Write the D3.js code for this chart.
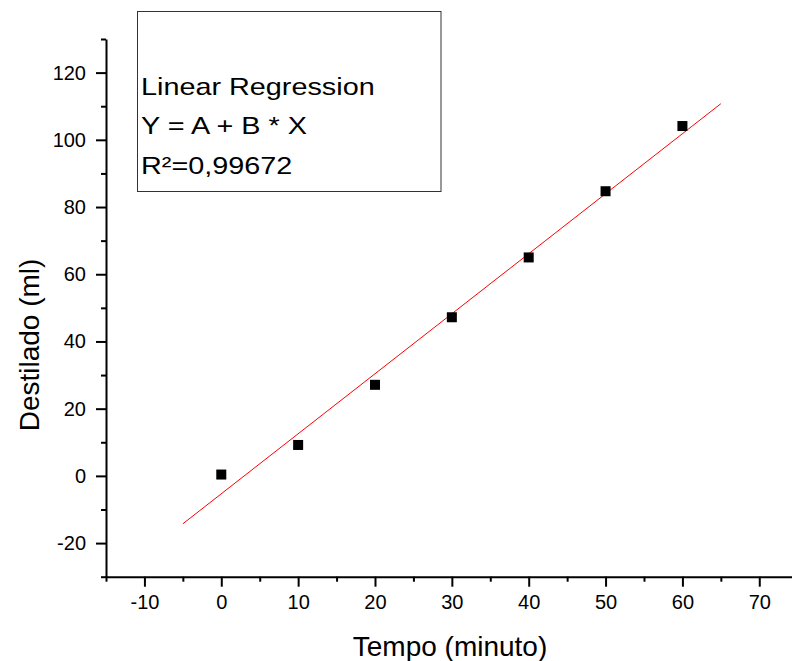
<!DOCTYPE html>
<html>
<head>
<meta charset="utf-8">
<script src="https://cdn.jsdelivr.net/npm/d3@7"></script>
<style>
  body { margin: 0; background: #fff; }
  svg { display: block; font-family: Arial, "Liberation Sans", sans-serif; }
</style>
</head>
<body>
<svg id="chart"></svg>
<script>
  // tempo (minuto) vs destilado (ml)
  const tempo = [0, 10, 20, 30, 40, 50, 60];
  const destilado = [0.4, 9.2, 27.1, 47.2, 65, 84.7, 104.1];
  const fitRange = [-5, 65];
  const xTicks = [-10, 0, 10, 20, 30, 40, 50, 60, 70];
  const yTicks = [-20, 0, 20, 40, 60, 80, 100, 120];
  const boxLines = ["Linear Regression", "Y = A + B * X", "R\u00b2=0,99672"];

  const width = 792, height = 661;
  const svg = d3.select("#chart").attr("width", width).attr("height", height);

  const x = d3.scaleLinear().domain([-15, 75]).range([106, 797.7]);
  const y = d3.scaleLinear().domain([-30, 130]).range([576.7, 39]);

  // least squares fit
  const mx = d3.mean(tempo), my = d3.mean(destilado);
  const b = d3.sum(tempo, (t, i) => (t - mx) * (destilado[i] - my)) /
    d3.sum(tempo, (t) => (t - mx) ** 2);
  const a = my - b * mx;

  const plain = (d) => String(d); // hyphen minus like the original

  // minor ticks first
  svg.append("g")
    .attr("transform", `translate(0,${y.range()[0]})`)
    .call(d3.axisBottom(x).tickValues(d3.range(-15, 76, 10)).tickSize(5).tickFormat(""))
    .call((g) => g.select(".domain").remove());
  svg.append("g")
    .attr("transform", `translate(${x.range()[0]},0)`)
    .call(d3.axisLeft(y).tickValues(d3.range(-30, 131, 20)).tickSize(5).tickFormat(""))
    .call((g) => g.select(".domain").remove());

  const xAxis = svg.append("g")
    .attr("transform", `translate(0,${y.range()[0]})`)
    .call(d3.axisBottom(x).tickValues(xTicks).tickFormat(plain)
      .tickSize(10).tickSizeOuter(0).tickPadding(8));
  const yAxis = svg.append("g")
    .attr("transform", `translate(${x.range()[0]},0)`)
    .call(d3.axisLeft(y).tickValues(yTicks).tickFormat(plain)
      .tickSize(10).tickSizeOuter(0).tickPadding(10));

  svg.selectAll(".tick line, .domain").attr("stroke", "#000").attr("stroke-width", 2);
  [xAxis, yAxis].forEach((g) =>
    g.selectAll("text").attr("fill", "#000").style("font-size", "20px")
      .style("font-family", "Arial, 'Liberation Sans', sans-serif"));

  // fit line
  svg.append("line")
    .attr("x1", x(fitRange[0])).attr("y1", y(a + b * fitRange[0]))
    .attr("x2", x(fitRange[1])).attr("y2", y(a + b * fitRange[1]))
    .attr("stroke", "#ff0000").attr("stroke-width", 1);

  // points
  const s = 10;
  svg.append("g").selectAll("rect")
    .data(tempo)
    .join("rect")
    .attr("x", (d) => x(d) - s / 2)
    .attr("y", (d, i) => y(destilado[i]) - s / 2)
    .attr("width", s).attr("height", s)
    .attr("fill", "#000");

  // axis titles
  svg.append("text")
    .attr("x", 450).attr("y", 656)
    .attr("text-anchor", "middle")
    .style("font-size", "28px")
    .text("Tempo (minuto)");
  svg.append("text")
    .attr("transform", "translate(39,345) rotate(-90)")
    .attr("text-anchor", "middle")
    .style("font-size", "28px")
    .text("Destilado (ml)");

  // regression box
  svg.append("rect")
    .attr("x", 137.5).attr("y", 11.5)
    .attr("width", 303.5).attr("height", 180)
    .attr("fill", "#fff").attr("stroke", "#333").attr("stroke-width", 1);
  svg.append("g")
    .attr("transform", "translate(141,0) scale(1.2,1)")
    .selectAll("text")
    .data(boxLines)
    .join("text")
    .attr("x", 0)
    .attr("y", (d, i) => 95 + i * 39.5)
    .style("font-size", "24px")
    .text((d) => d);
</script>
</body>
</html>
